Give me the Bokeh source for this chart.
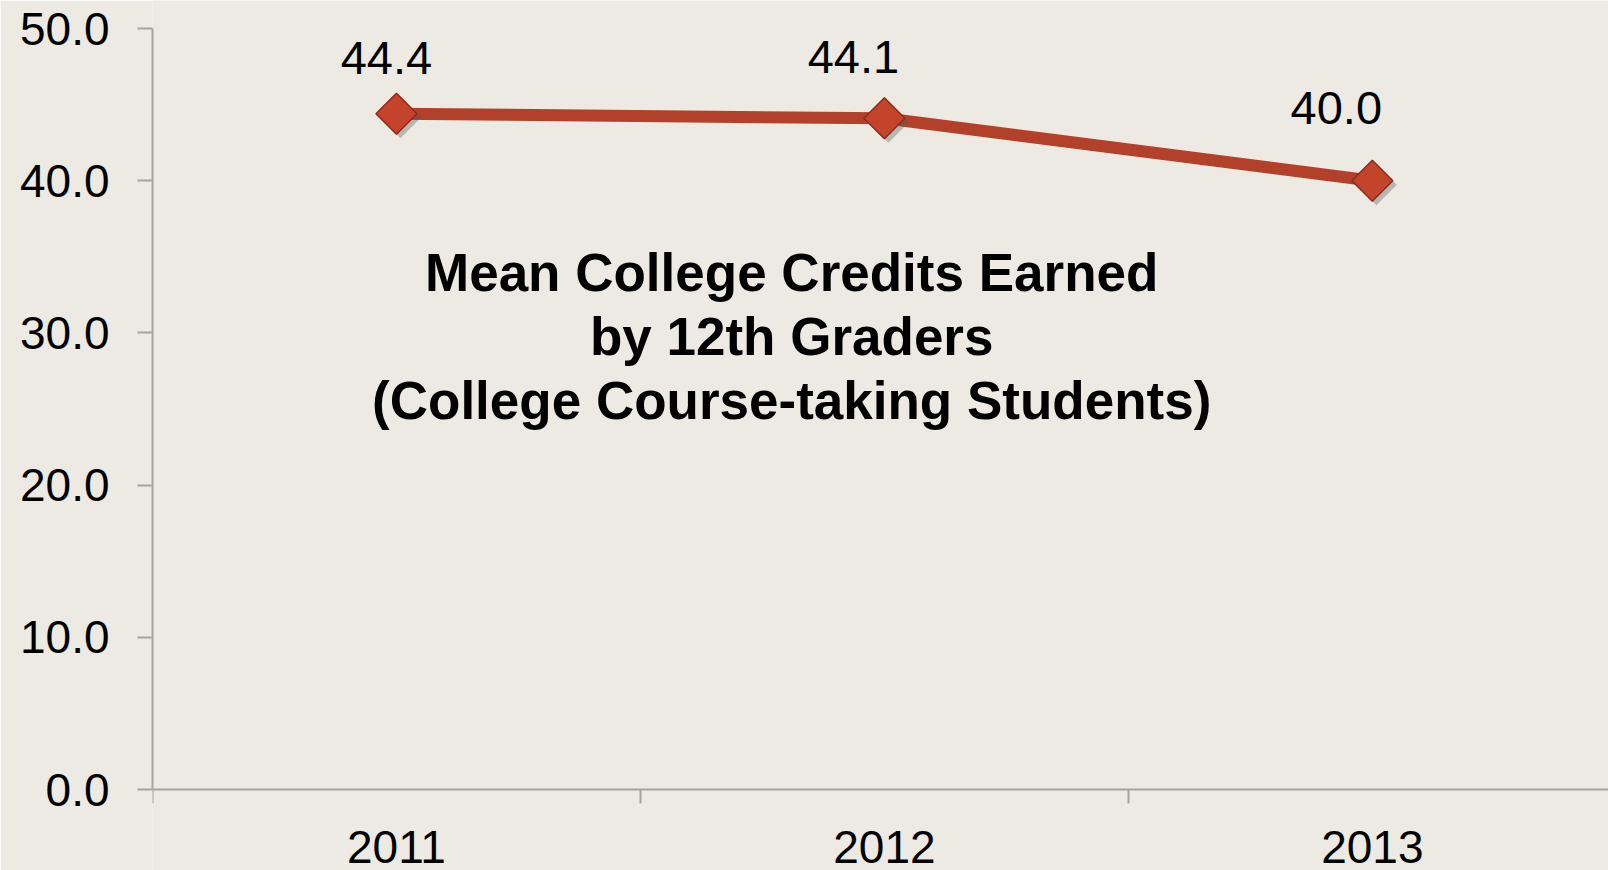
import numpy as np
from bokeh.plotting import figure
from bokeh.models import (ColumnDataSource, FixedTicker, NumeralTickFormatter,
                          LabelSet, Label, Range1d)
from bokeh.transform import dodge
from bokeh.core.properties import value
from bokeh.embed import file_html
from bokeh.resources import INLINE

# ---- data ----
years = ["2011", "2012", "2013"]
mean_credits = [44.4, 44.1, 40.0]
value_labels = ["44.4", "44.1", "40.0"]
y_ticks = [0, 10, 20, 30, 40, 50]
title_lines = ["Mean College Credits Earned", "by 12th Graders",
               "(College Course-taking Students)"]

# ---- style / layout ----
BG = "#EDEAE4"
AXIS = "#A3A3A3"
LINE = "#B3402A"
FONT = "Liberation Sans"
label_dx = [-10, -31, -36]
label_dy = [40, 45, 57]
title_y = [33.97, 29.76, 25.56]

x_pos = np.arange(len(years)) + 0.5
src = ColumnDataSource(dict(x=x_pos, y=mean_credits, txt=value_labels,
                            dx=label_dx, dy=label_dy))

p = figure(width=1608, height=870, output_backend="svg", toolbar_location=None,
           x_range=Range1d(0, 2.984), y_range=Range1d(-5.32, 51.84),
           min_border_left=152, min_border_right=0, min_border_top=0,
           min_border_bottom=0)
p.background_fill_color = BG
p.border_fill_color = BG
p.outline_line_color = None
p.grid.visible = False

# y axis
ya = p.yaxis[0]
ya.ticker = FixedTicker(ticks=y_ticks, minor_ticks=[])
ya.formatter = NumeralTickFormatter(format="0.0")
ya.bounds = (0, 50)
ya.axis_line_color = AXIS
ya.axis_line_width = 2
ya.major_tick_line_color = AXIS
ya.major_tick_line_width = 2
ya.major_tick_out = 15
ya.major_tick_in = 0
ya.minor_tick_line_color = None
ya.major_label_text_font = FONT
ya.major_label_text_font_size = "46px"
ya.major_label_text_color = "black"
ya.major_label_standoff = 28

# x axis (fixed at y = 0, ticks at category boundaries)
xa = p.xaxis[0]
xa.fixed_location = 0
xa.ticker = FixedTicker(ticks=list(x_pos), minor_ticks=list(range(len(years) + 1)))
xa.major_label_overrides = {float(x): y for x, y in zip(x_pos, years)}
xa.axis_line_color = AXIS
xa.axis_line_width = 2
xa.major_tick_out = 0
xa.major_tick_in = 0
xa.major_tick_line_color = None
xa.minor_tick_line_color = AXIS
xa.minor_tick_line_width = 2
xa.minor_tick_out = 14
xa.minor_tick_in = 0
xa.major_label_text_font = FONT
xa.major_label_text_font_size = "46px"
xa.major_label_text_color = "black"
xa.major_label_standoff = 27

# line + markers
p.line("x", "y", source=src, line_color=LINE, line_width=12)
p.scatter(x=dodge("x", 4 / 488, range=p.x_range), y=dodge("y", -4 / 15.22, range=p.y_range),
          source=src, marker="square", angle=np.pi / 4, size=29,
          fill_color="#555555", fill_alpha=0.35, line_color=None)
p.scatter("x", "y", source=src, marker="square", angle=np.pi / 4, size=29,
          fill_color="#C4432B", line_color="#8E2A17", line_width=1.5)

# value labels
p.add_layout(LabelSet(x="x", y="y", text="txt", source=src, x_offset="dx", y_offset="dy",
                      text_align="center", text_baseline="alphabetic",
                      text_font=value(FONT), text_font_size="47px", text_color="black"))

# chart title inside plot
for line_txt, yy in zip(title_lines, title_y):
    p.add_layout(Label(x=1.31, y=yy, text=line_txt, text_align="center",
                       text_baseline="alphabetic", text_font=FONT, text_font_size="53px",
                       text_font_style="bold", text_color="black"))

open("out.html", "w").write(file_html(p, INLINE))
